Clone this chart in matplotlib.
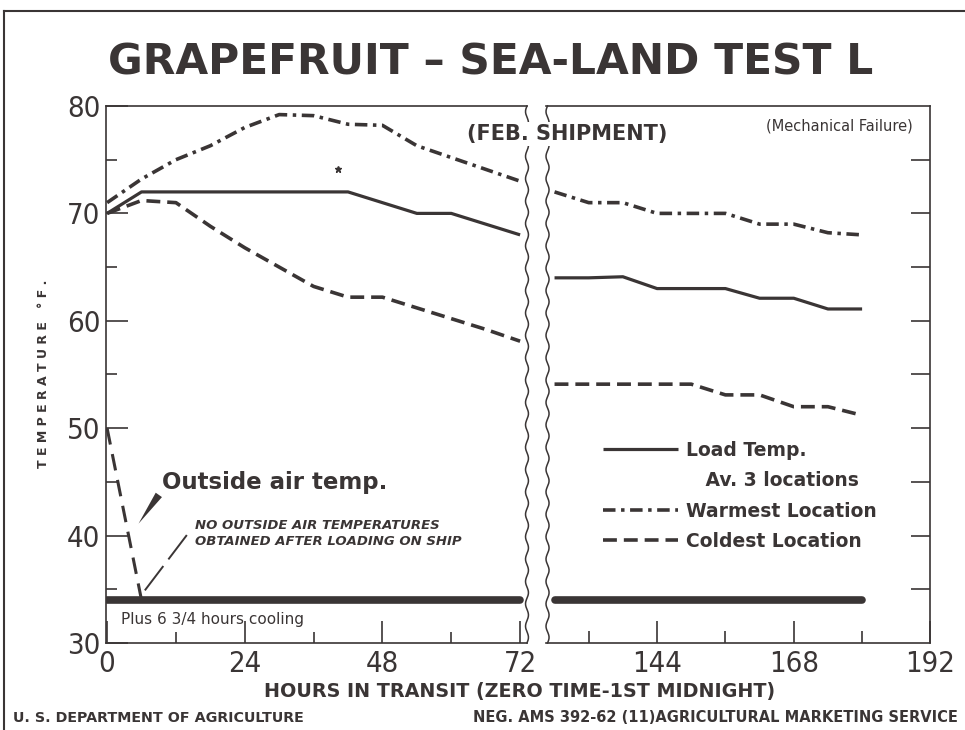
import numpy as np
import matplotlib
matplotlib.use("Agg")
import matplotlib.pyplot as plt
from matplotlib.lines import Line2D

plt.rcParams['font.family'] = ['DejaVu Sans']
plt.rcParams['lines.scale_dashes'] = False

INK = '#3a3535'

# ---- data ----
# first 72 hours (truck / dock part)
hours_a = [0, 6, 12, 18, 24, 30, 36, 42, 48, 54, 60, 66, 72]
load_a = [70, 72, 72, 72, 72, 72, 72, 72, 71, 70, 70, 69, 68]
warm_a = [71, 73.2, 75, 76.3, 78, 79.2, 79.1, 78.3, 78.2, 76.3, 75.2, 74.1, 73]
cold_a = [70, 71.2, 71, 68.8, 66.8, 65, 63.2, 62.2, 62.2, 61.2, 60.2, 59.2, 58.1]

# after the break (126 - 180 hours)
hours_b = [126, 132, 138, 144, 150, 156, 162, 168, 174, 180]
load_b = [64, 64, 64.1, 63, 63, 63, 62.1, 62.1, 61.1, 61.1]
warm_b = [72, 71, 71, 70, 70, 70, 69, 69, 68.2, 68]
cold_b = [54.1, 54.1, 54.1, 54.1, 54.1, 53.1, 53.1, 52, 52, 51.2]

outside_hours = [0, 6]
outside_temp = [50, 34]
cooling_temp = 34  # thick bar along the bottom
cooling_a = [0, 72]
cooling_b = [126, 180]

fig = plt.figure(figsize=(9.65, 7.3), dpi=100)
fig.patch.set_facecolor('white')

ax1 = fig.add_axes([0.1098, 0.1192, 0.4363, 0.7356])
ax2 = fig.add_axes([0.5658, 0.1192, 0.3984, 0.7356])

solid = dict(color=INK, lw=2.3, solid_capstyle='butt')
dashdot = dict(color=INK, lw=2.6, dashes=(9, 4, 2.5, 4))
dashed = dict(color=INK, lw=2.6, dashes=(10, 5))

for ax, h, ld, wm, cd, cool in [(ax1, hours_a, load_a, warm_a, cold_a, cooling_a),
                                 (ax2, hours_b, load_b, warm_b, cold_b, cooling_b)]:
    ax.plot(h, ld, **solid)
    ax.plot(h, wm, **dashdot)
    ax.plot(h, cd, **dashed)
    ax.plot(cool, [cooling_temp, cooling_temp], color=INK, lw=5.5, solid_capstyle='round')
    ax.set_ylim(30, 80)
    for s in ax.spines.values():
        s.set_color(INK)
        s.set_linewidth(1.2)

ax1.set_xlim(-0.2, 73.2)
ax2.set_xlim(124.5, 192)

# outside air temperature before loading
ax1.plot(outside_hours, outside_temp, color=INK, lw=2.2, dashes=(12, 7))
ax1.plot([40.3], [74.1], marker='*', ms=5, color=INK)

# ticks
ax1.set_xticks([0, 24, 48, 72])
ax1.set_xticks([12, 36, 60], minor=True)
ax1.set_yticks(range(30, 81, 10))
ax1.set_yticks(range(35, 80, 10), minor=True)
ax1.tick_params(which='major', direction='in', length=16, width=1.2, color=INK,
                labelsize=21, labelcolor=INK, pad=4)
ax1.tick_params(which='minor', direction='in', length=8, width=1.2, color=INK)
ax1.tick_params(axis='x', which='major', pad=5)
for lab in ax1.get_xticklabels() + ax1.get_yticklabels():
    lab.set_fontstretch('condensed')

ax2.set_xticks([144, 168, 192])
ax2.set_xticks([132, 156, 180], minor=True)
ax2.set_yticks(range(35, 80, 5))
ax2.yaxis.tick_right()
ax2.tick_params(axis='y', which='major', direction='in', length=14, width=1.2, color=INK,
                labelright=False)
ax2.tick_params(axis='x', which='major', direction='in', length=16, width=1.2, color=INK,
                labelsize=21, labelcolor=INK, pad=5)
ax2.tick_params(axis='x', which='minor', direction='in', length=9, width=1.2, color=INK)
for lab in ax2.get_xticklabels():
    lab.set_fontstretch('condensed')

# broken axis: wavy edges
ax1.spines['right'].set_visible(False)
ax2.spines['left'].set_visible(False)
t = np.linspace(0, 1, 600)
wig = np.sin(t * 2 * np.pi * 24)
ax1.plot(1 + 0.0035 * wig, t, transform=ax1.transAxes, color=INK, lw=1.1, clip_on=False)
ax2.plot(0.004 + 0.004 * wig, t, transform=ax2.transAxes, color=INK, lw=1.1, clip_on=False)

# texts
fig.text(0.508, 0.915, 'GRAPEFRUIT – SEA-LAND TEST L', ha='center', va='center',
         fontsize=30.5, fontweight='bold', color=INK)
fig.text(0.588, 0.817, '(FEB. SHIPMENT)', ha='center', va='center',
         fontsize=15, fontweight='bold', color=INK, zorder=10,
         bbox=dict(facecolor='white', edgecolor='none', pad=1.5))
ax2.text(0.955, 0.962, '(Mechanical Failure)', transform=ax2.transAxes, ha='right', va='center',
         fontsize=10.5, color=INK)

ax1.text(9.6, 44.9, 'Outside air temp.', fontsize=16.5, fontweight='bold', color=INK,
         va='center')
ax1.annotate('', xy=(5.2, 40.9), xytext=(9.3, 44.0),
             arrowprops=dict(arrowstyle='wedge,tail_width=0.55', color=INK, lw=0))
ax1.text(15.4, 40.2, 'NO OUTSIDE AIR TEMPERATURES\nOBTAINED AFTER LOADING ON SHIP',
         fontsize=9.5, fontweight='bold', style='italic', color=INK, va='center',
         linespacing=1.3)
ax1.plot([13.9, 6.3], [40.05, 34.7], color=INK, lw=1.4, dashes=(22, 6))
ax1.text(2.4, 32.2, 'Plus 6 3/4 hours cooling', fontsize=11, color=INK, va='center')

fig.text(0.045, 0.488, 'T E M P E R A T U R E   ° F .', rotation=90, ha='center', va='center',
         fontsize=9, fontweight='bold', color=INK)
fig.text(0.538, 0.053, 'HOURS IN TRANSIT (ZERO TIME-1ST MIDNIGHT)', ha='center', va='center',
         fontsize=13.8, fontweight='bold', color=INK)
fig.text(0.013, 0.017, 'U. S. DEPARTMENT OF AGRICULTURE', ha='left', va='center',
         fontsize=10.3, fontweight='bold', color=INK)
fig.text(0.993, 0.017, 'NEG. AMS 392-62 (11)AGRICULTURAL MARKETING SERVICE', ha='right',
         va='center', fontsize=10.5, fontweight='bold', color=INK)

# legend
handles = [Line2D([], [], **solid),
           Line2D([], [], color='none'),
           Line2D([], [], **dashdot),
           Line2D([], [], **dashed)]
labels = ['Load Temp.', '   Av. 3 locations', 'Warmest Location', 'Coldest Location']
leg = ax2.legend(handles, labels, loc='upper left', bbox_to_anchor=(0.13, 0.39),
                 frameon=False, handlelength=4.0, handletextpad=0.4, labelspacing=0.6,
                 prop={'size': 13.5, 'weight': 'bold'}, labelcolor=INK, borderaxespad=0)

# outer frame of the sheet
fig.add_artist(Line2D([0.004, 1.0], [0.985, 0.985], transform=fig.transFigure,
                      color=INK, lw=1.5))
fig.add_artist(Line2D([0.004, 0.004], [0.0, 0.985], transform=fig.transFigure,
                      color=INK, lw=1.5))

fig.savefig('out.png', dpi=100)
